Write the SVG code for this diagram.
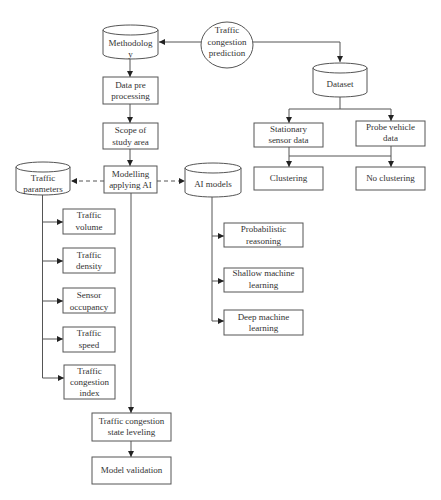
<svg xmlns="http://www.w3.org/2000/svg" width="441" height="500" viewBox="0 0 441 500">
<defs>
<marker id="ah" viewBox="0 0 10 10" refX="10" refY="5" markerWidth="6" markerHeight="6" orient="auto" markerUnits="userSpaceOnUse">
<path d="M0,0 L10,5 L0,10 z" fill="#222"/>
</marker>
</defs>
<style>
.box{fill:#fff;stroke:#555;stroke-width:1}
.ln{fill:none;stroke:#555;stroke-width:1}
.dash{stroke-dasharray:4,3}
text{font-family:"Liberation Serif","DejaVu Serif",serif;font-size:9px;fill:#333;text-anchor:middle}
</style>
<rect width="441" height="500" fill="#fff"/>
<g id="connectors">
<line class="ln" x1="201" y1="42" x2="159" y2="42" marker-end="url(#ah)"/>
<polyline class="ln" points="253,42 340,42 340,62" marker-end="url(#ah)"/>
<line class="ln" x1="130" y1="59" x2="130" y2="77" marker-end="url(#ah)"/>
<line class="ln" x1="130" y1="104" x2="130" y2="123" marker-end="url(#ah)"/>
<line class="ln" x1="130" y1="149" x2="130" y2="166" marker-end="url(#ah)"/>
<line class="ln dash" x1="104" y1="181" x2="71" y2="181" marker-end="url(#ah)"/>
<line class="ln dash" x1="157" y1="181" x2="185" y2="181" marker-end="url(#ah)"/>
<line class="ln" x1="340" y1="97" x2="340" y2="109"/>
<polyline class="ln" points="289,109 391,109"/>
<line class="ln" x1="289" y1="109" x2="289" y2="123" marker-end="url(#ah)"/>
<line class="ln" x1="391" y1="109" x2="391" y2="121" marker-end="url(#ah)"/>
<line class="ln" x1="289" y1="147" x2="289" y2="167" marker-end="url(#ah)"/>
<line class="ln" x1="391" y1="146" x2="391" y2="167" marker-end="url(#ah)"/>
<line class="ln" x1="289" y1="156" x2="391" y2="156"/>
<line class="ln" x1="42.5" y1="195" x2="42.5" y2="378"/>
<line class="ln" x1="42.5" y1="222" x2="63" y2="222" marker-end="url(#ah)"/>
<line class="ln" x1="42.5" y1="261" x2="63" y2="261" marker-end="url(#ah)"/>
<line class="ln" x1="42.5" y1="301" x2="63" y2="301" marker-end="url(#ah)"/>
<line class="ln" x1="42.5" y1="339" x2="63" y2="339" marker-end="url(#ah)"/>
<line class="ln" x1="42.5" y1="378" x2="64" y2="378" marker-end="url(#ah)"/>
<line class="ln" x1="212" y1="197" x2="212" y2="321"/>
<line class="ln" x1="212" y1="236" x2="224" y2="236" marker-end="url(#ah)"/>
<line class="ln" x1="212" y1="281" x2="224" y2="281" marker-end="url(#ah)"/>
<line class="ln" x1="212" y1="321" x2="224" y2="321" marker-end="url(#ah)"/>
<line class="ln" x1="131" y1="193" x2="131" y2="413" marker-end="url(#ah)"/>
<line class="ln" x1="131" y1="441" x2="131" y2="457" marker-end="url(#ah)"/>
</g>
<g id="traffic-congestion-prediction">
<ellipse class="box" cx="227" cy="45" rx="26" ry="23"/>
<text x="227" y="33">Traffic</text>
<text x="227" y="45">congestion</text>
<text x="227" y="56">prediction</text>
</g>
<g id="methodology">
<path class="box" d="M103,30 A27.5,5 0 0 1 158,30 L158,54 A27.5,5 0 0 1 103,54 Z"/>
<path class="ln" d="M103,30 A27.5,5 0 0 0 158,30"/>
<text x="130.5" y="46">Methodolog</text>
<text x="130.5" y="57">y</text>
</g>
<g id="data-pre-processing">
<rect class="box" x="103" y="77" width="55" height="27"/>
<text x="130.5" y="88">Data pre</text>
<text x="130.5" y="99">processing</text>
</g>
<g id="scope-of-study-area">
<rect class="box" x="103" y="123" width="55" height="26"/>
<text x="130.5" y="133">Scope of</text>
<text x="130.5" y="145">study area</text>
</g>
<g id="modelling-applying-ai">
<rect class="box" x="104" y="166" width="53" height="27"/>
<text x="130.5" y="177">Modelling</text>
<text x="130.5" y="188">applying AI</text>
</g>
<g id="traffic-parameters">
<path class="box" d="M16,167 A27,5 0 0 1 70,167 L70,190 A27,5 0 0 1 16,190 Z"/>
<path class="ln" d="M16,167 A27,5 0 0 0 70,167"/>
<text x="43" y="181">Traffic</text>
<text x="43" y="192">parameters</text>
</g>
<g id="ai-models">
<path class="box" d="M185,168 A28,5 0 0 1 241,168 L241,192 A28,5 0 0 1 185,192 Z"/>
<path class="ln" d="M185,168 A28,5 0 0 0 241,168"/>
<text x="213" y="187">AI models</text>
</g>
<g id="dataset">
<path class="box" d="M313,68 A27,5 0 0 1 367,68 L367,92 A27,5 0 0 1 313,92 Z"/>
<path class="ln" d="M313,68 A27,5 0 0 0 367,68"/>
<text x="340" y="87">Dataset</text>
</g>
<g id="stationary-sensor-data">
<rect class="box" x="254" y="123" width="69" height="24"/>
<text x="288.5" y="132">Stationary</text>
<text x="288.5" y="143">sensor data</text>
</g>
<g id="probe-vehicle-data">
<rect class="box" x="356" y="121" width="69" height="25"/>
<text x="390.5" y="130">Probe vehicle</text>
<text x="390.5" y="141">data</text>
</g>
<g id="clustering">
<rect class="box" x="254" y="167" width="69" height="23"/>
<text x="288.5" y="181">Clustering</text>
</g>
<g id="no-clustering">
<rect class="box" x="356" y="167" width="69" height="23"/>
<text x="390.5" y="181">No clustering</text>
</g>
<g id="traffic-volume">
<rect class="box" x="63" y="209" width="52" height="25"/>
<text x="89" y="218">Traffic</text>
<text x="89" y="230">volume</text>
</g>
<g id="traffic-density">
<rect class="box" x="63" y="248" width="52" height="25"/>
<text x="89" y="258">Traffic</text>
<text x="89" y="269">density</text>
</g>
<g id="sensor-occupancy">
<rect class="box" x="63" y="288" width="52" height="25"/>
<text x="89" y="298">Sensor</text>
<text x="89" y="310">occupancy</text>
</g>
<g id="traffic-speed">
<rect class="box" x="63" y="327" width="52" height="25"/>
<text x="89" y="336">Traffic</text>
<text x="89" y="348">speed</text>
</g>
<g id="traffic-congestion-index">
<rect class="box" x="64" y="365" width="51" height="34"/>
<text x="89.5" y="374">Traffic</text>
<text x="89.5" y="385">congestion</text>
<text x="89.5" y="396">index</text>
</g>
<g id="probabilistic-reasoning">
<rect class="box" x="224" y="223" width="79" height="24"/>
<text x="263.5" y="232">Probabilistic</text>
<text x="263.5" y="244">reasoning</text>
</g>
<g id="shallow-machine-learning">
<rect class="box" x="224" y="268" width="79" height="24"/>
<text x="263.5" y="276">Shallow machine</text>
<text x="263.5" y="288">learning</text>
</g>
<g id="deep-machine-learning">
<rect class="box" x="224" y="310" width="79" height="25"/>
<text x="263.5" y="320">Deep machine</text>
<text x="263.5" y="331">learning</text>
</g>
<g id="traffic-congestion-state-leveling">
<rect class="box" x="92" y="413" width="79" height="28"/>
<text x="131.5" y="424">Traffic congestion</text>
<text x="131.5" y="435">state leveling</text>
</g>
<g id="model-validation">
<rect class="box" x="92" y="457" width="79" height="27"/>
<text x="131.5" y="473">Model validation</text>
</g>
</svg>
